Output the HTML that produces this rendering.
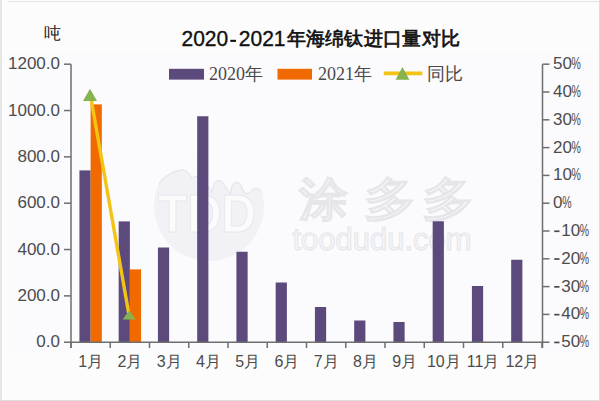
<!DOCTYPE html>
<html><head><meta charset="utf-8">
<style>
html,body{margin:0;padding:0;background:#fdfcfd;}
body{width:600px;height:401px;overflow:hidden;position:relative;}
svg{position:absolute;left:0;top:0;}
.ax{font-family:"Liberation Sans",sans-serif;font-size:17px;fill:#4c4c4c;}
.mo{font-family:"Liberation Sans",sans-serif;font-size:16px;fill:#4c4c4c;}
.lg{font-family:"Liberation Serif",serif;font-size:18px;fill:#4a4a4a;}
.ti{font-family:"Liberation Sans",sans-serif;font-size:21px;font-weight:normal;fill:#111;stroke:#111;stroke-width:0.35px;}
.ti2{font-family:"Liberation Sans",sans-serif;font-size:19px;letter-spacing:0.33px;font-weight:normal;fill:#111;stroke:#111;stroke-width:0.7px;}
.un{font-family:"Liberation Sans",sans-serif;font-size:17px;fill:#222;}
.pct{font-size:13px;}
</style></head><body>
<svg width="600" height="401" viewBox="0 0 600 401">
<rect x="0" y="0" width="600" height="401" fill="#fcfcfc"/>
<rect x="8" y="52" width="585" height="300" fill="#fbfafd"/>
<line x1="1" y1="0" x2="1" y2="401" stroke="#e6e6e6" stroke-width="2"/>
<line x1="8" y1="1.5" x2="600" y2="1.5" stroke="#e4e4e4" stroke-width="1"/>
<line x1="599.5" y1="0" x2="599.5" y2="401" stroke="#dedede" stroke-width="1"/>
<line x1="0" y1="400.5" x2="600" y2="400.5" stroke="#dedede" stroke-width="1"/>
<g>
<defs><clipPath id="cc"><circle cx="209" cy="206" r="55"/></clipPath></defs>
<circle cx="209" cy="206" r="55" fill="#f2f1f5"/>
<g clip-path="url(#cc)">
<path d="M150 150 L270 150 L270 200 Q266 194 262 192 Q256 186 252 190 Q248 196 244 192 L240 184 Q236 180 232 186 L230 194 Q226 188 222 182 Q218 178 214 184 L212 192 Q208 186 204 180 Q198 174 192 178 Q186 168 180 170 Q170 172 160 182 Q154 190 150 200 Z" fill="#fbfafd" stroke="#e7e6eb" stroke-width="1.3"/>
</g>
<text transform="translate(207,232) scale(0.9,1)" text-anchor="middle" font-family="Liberation Sans" font-weight="bold" font-size="53" fill="#fbfbfc" stroke="#e8e7ec" stroke-width="1">TDD</text>
<text transform="translate(299,215) scale(0.98,0.92)" font-family="Liberation Sans" font-weight="bold" font-size="50" fill="#f8f8fa" stroke="#e6e6ea" stroke-width="1">涂</text><text transform="translate(364,215) scale(1.05,0.92)" font-family="Liberation Sans" font-weight="bold" font-size="50" fill="#f8f8fa" stroke="#e6e6ea" stroke-width="1">多</text><text transform="translate(422,215) scale(1.05,0.92)" font-family="Liberation Sans" font-weight="bold" font-size="50" fill="#f8f8fa" stroke="#e6e6ea" stroke-width="1">多</text>
<text x="382" y="250" text-anchor="middle" font-family="Liberation Sans" font-size="31" fill="#f7f7f9" stroke="#e5e5e9" stroke-width="1">toodudu.com</text>
</g>
<rect x="79.42" y="170.4" width="11.2" height="171.60" fill="#5c4a7c"/>
<rect x="118.67" y="221.4" width="11.2" height="120.60" fill="#5c4a7c"/>
<rect x="157.93" y="247.5" width="11.2" height="94.50" fill="#5c4a7c"/>
<rect x="197.18" y="116.25" width="11.2" height="225.75" fill="#5c4a7c"/>
<rect x="236.43" y="251.75" width="11.2" height="90.25" fill="#5c4a7c"/>
<rect x="275.68" y="282.5" width="11.2" height="59.50" fill="#5c4a7c"/>
<rect x="314.93" y="307" width="11.2" height="35.00" fill="#5c4a7c"/>
<rect x="354.18" y="320.5" width="11.2" height="21.50" fill="#5c4a7c"/>
<rect x="393.43" y="322" width="11.2" height="20.00" fill="#5c4a7c"/>
<rect x="432.68" y="221.25" width="11.2" height="120.75" fill="#5c4a7c"/>
<rect x="471.93" y="286" width="11.2" height="56.00" fill="#5c4a7c"/>
<rect x="511.18" y="259.75" width="11.2" height="82.25" fill="#5c4a7c"/>
<rect x="90.62" y="104.4" width="11.2" height="237.60" fill="#f06a00"/>
<rect x="129.88" y="269.4" width="11.2" height="72.60" fill="#f06a00"/>
<g stroke="#6e6e6e" stroke-width="1.5" fill="none">
<line x1="71" y1="64.2" x2="71" y2="348"/>
<line x1="542.5" y1="64.2" x2="542.5" y2="348"/>
<line x1="71" y1="342.2" x2="542.5" y2="342.2"/>
<line x1="64" y1="64.20" x2="71" y2="64.20"/>
<line x1="64" y1="110.53" x2="71" y2="110.53"/>
<line x1="64" y1="156.87" x2="71" y2="156.87"/>
<line x1="64" y1="203.20" x2="71" y2="203.20"/>
<line x1="64" y1="249.53" x2="71" y2="249.53"/>
<line x1="64" y1="295.87" x2="71" y2="295.87"/>
<line x1="64" y1="342.20" x2="71" y2="342.20"/>
<line x1="542.5" y1="64.20" x2="549.5" y2="64.20"/>
<line x1="542.5" y1="92.00" x2="549.5" y2="92.00"/>
<line x1="542.5" y1="119.80" x2="549.5" y2="119.80"/>
<line x1="542.5" y1="147.60" x2="549.5" y2="147.60"/>
<line x1="542.5" y1="175.40" x2="549.5" y2="175.40"/>
<line x1="542.5" y1="203.20" x2="549.5" y2="203.20"/>
<line x1="542.5" y1="231.00" x2="549.5" y2="231.00"/>
<line x1="542.5" y1="258.80" x2="549.5" y2="258.80"/>
<line x1="542.5" y1="286.60" x2="549.5" y2="286.60"/>
<line x1="542.5" y1="314.40" x2="549.5" y2="314.40"/>
<line x1="542.5" y1="342.20" x2="549.5" y2="342.20"/>
<line x1="71.00" y1="342.2" x2="71.00" y2="348"/>
<line x1="110.25" y1="342.2" x2="110.25" y2="348"/>
<line x1="149.50" y1="342.2" x2="149.50" y2="348"/>
<line x1="188.75" y1="342.2" x2="188.75" y2="348"/>
<line x1="228.00" y1="342.2" x2="228.00" y2="348"/>
<line x1="267.25" y1="342.2" x2="267.25" y2="348"/>
<line x1="306.50" y1="342.2" x2="306.50" y2="348"/>
<line x1="345.75" y1="342.2" x2="345.75" y2="348"/>
<line x1="385.00" y1="342.2" x2="385.00" y2="348"/>
<line x1="424.25" y1="342.2" x2="424.25" y2="348"/>
<line x1="463.50" y1="342.2" x2="463.50" y2="348"/>
<line x1="502.75" y1="342.2" x2="502.75" y2="348"/>
<line x1="542.00" y1="342.2" x2="542.00" y2="348"/>
</g>
<line x1="90.5" y1="95.5" x2="129" y2="315" stroke="#f4c414" stroke-width="3.4"/>
<path d="M90 88.75 L97 101 L83 101 Z" fill="#86b34e"/>
<path d="M129.2 310.5 L135.79999999999998 319.5 L122.6 319.5 Z" fill="#86b34e"/>
<text x="60" y="69.20" text-anchor="end" class="ax">1200.0</text>
<text x="60" y="115.53" text-anchor="end" class="ax">1000.0</text>
<text x="60" y="161.87" text-anchor="end" class="ax">800.0</text>
<text x="60" y="208.20" text-anchor="end" class="ax">600.0</text>
<text x="60" y="254.53" text-anchor="end" class="ax">400.0</text>
<text x="60" y="300.87" text-anchor="end" class="ax">200.0</text>
<text x="60" y="347.20" text-anchor="end" class="ax">0.0</text>
<text x="553" y="69.20" class="ax">50</text>
<text transform="translate(571.61,69.20) scale(0.62,1)" class="ax">%</text>
<text x="553" y="97.00" class="ax">40</text>
<text transform="translate(571.61,97.00) scale(0.62,1)" class="ax">%</text>
<text x="553" y="124.80" class="ax">30</text>
<text transform="translate(571.61,124.80) scale(0.62,1)" class="ax">%</text>
<text x="553" y="152.60" class="ax">20</text>
<text transform="translate(571.61,152.60) scale(0.62,1)" class="ax">%</text>
<text x="553" y="180.40" class="ax">10</text>
<text transform="translate(571.61,180.40) scale(0.62,1)" class="ax">%</text>
<text x="553" y="208.20" class="ax">0</text>
<text transform="translate(562.15,208.20) scale(0.62,1)" class="ax">%</text>
<rect x="554.2" y="230.40" width="5.3" height="1.7" fill="#4c4c4c"/>
<text x="561.2" y="236.00" class="ax">10</text>
<text transform="translate(579.81,236.00) scale(0.62,1)" class="ax">%</text>
<rect x="554.2" y="258.20" width="5.3" height="1.7" fill="#4c4c4c"/>
<text x="561.2" y="263.80" class="ax">20</text>
<text transform="translate(579.81,263.80) scale(0.62,1)" class="ax">%</text>
<rect x="554.2" y="286.00" width="5.3" height="1.7" fill="#4c4c4c"/>
<text x="561.2" y="291.60" class="ax">30</text>
<text transform="translate(579.81,291.60) scale(0.62,1)" class="ax">%</text>
<rect x="554.2" y="313.80" width="5.3" height="1.7" fill="#4c4c4c"/>
<text x="561.2" y="319.40" class="ax">40</text>
<text transform="translate(579.81,319.40) scale(0.62,1)" class="ax">%</text>
<rect x="554.2" y="341.60" width="5.3" height="1.7" fill="#4c4c4c"/>
<text x="561.2" y="347.20" class="ax">50</text>
<text transform="translate(579.81,347.20) scale(0.62,1)" class="ax">%</text>
<text x="90.62" y="366.5" text-anchor="middle" class="mo">1月</text>
<text x="129.88" y="366.5" text-anchor="middle" class="mo">2月</text>
<text x="169.12" y="366.5" text-anchor="middle" class="mo">3月</text>
<text x="208.38" y="366.5" text-anchor="middle" class="mo">4月</text>
<text x="247.62" y="366.5" text-anchor="middle" class="mo">5月</text>
<text x="286.88" y="366.5" text-anchor="middle" class="mo">6月</text>
<text x="326.12" y="366.5" text-anchor="middle" class="mo">7月</text>
<text x="365.38" y="366.5" text-anchor="middle" class="mo">8月</text>
<text x="404.62" y="366.5" text-anchor="middle" class="mo">9月</text>
<text x="443.88" y="366.5" text-anchor="middle" class="mo">10月</text>
<text x="483.12" y="366.5" text-anchor="middle" class="mo">11月</text>
<text x="522.38" y="366.5" text-anchor="middle" class="mo">12月</text>
<rect x="169" y="68.8" width="35" height="10.8" fill="#5c4a7c"/>
<text x="209" y="80" class="lg">2020年</text>
<rect x="277.5" y="68.8" width="34.5" height="10.8" fill="#f06a00"/>
<text x="318" y="80" class="lg">2021年</text>
<line x1="383.8" y1="73.3" x2="422.3" y2="73.3" stroke="#f4c414" stroke-width="3.7"/>
<path d="M402.5 67 L409.4 79.8 L395.6 79.8 Z" fill="#86b34e"/>
<text x="427" y="80" class="lg">同比</text>
<text transform="translate(181.5,45.5) scale(1,1.06)" class="ti">2020</text>
<rect x="230.3" y="39.8" width="5.7" height="2.1" fill="#111"/>
<text transform="translate(238.8,45.5) scale(1,1.06)" class="ti">2021</text>
<text x="286.5" y="45.4" class="ti2">年海绵钛进口量对比</text>
<text x="44" y="39" class="un">吨</text>
</svg>
</body></html>
